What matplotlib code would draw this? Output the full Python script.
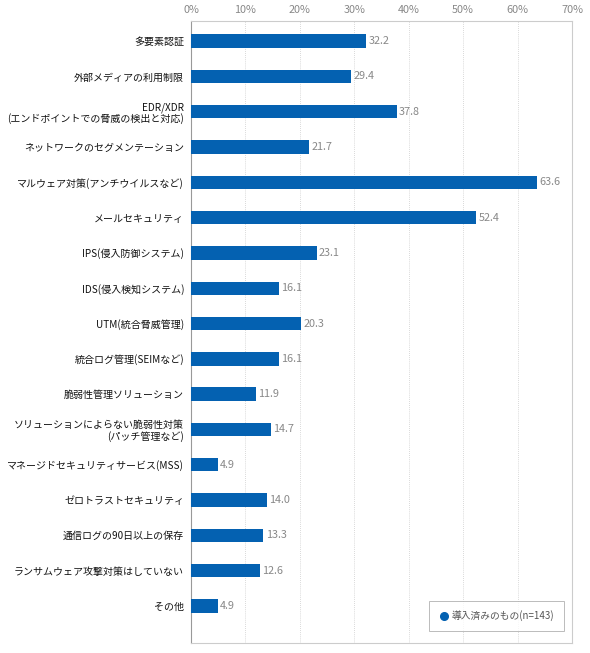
import matplotlib
matplotlib.use("Agg")
import matplotlib.pyplot as plt
from matplotlib.lines import Line2D

plt.rcParams['font.family'] = ['Noto Sans CJK JP', 'DejaVu Sans']

categories = [
    "多要素認証",
    "外部メディアの利用制限",
    "EDR/XDR\n(エンドポイントでの脅威の検出と対応)",
    "ネットワークのセグメンテーション",
    "マルウェア対策(アンチウイルスなど)",
    "メールセキュリティ",
    "IPS(侵入防御システム)",
    "IDS(侵入検知システム)",
    "UTM(統合脅威管理)",
    "統合ログ管理(SEIMなど)",
    "脆弱性管理ソリューション",
    "ソリューションによらない脆弱性対策\n(パッチ管理など)",
    "マネージドセキュリティサービス(MSS)",
    "ゼロトラストセキュリティ",
    "通信ログの90日以上の保存",
    "ランサムウェア攻撃対策はしていない",
    "その他",
]
values = [32.2, 29.4, 37.8, 21.7, 63.6, 52.4, 23.1, 16.1, 20.3, 16.1, 11.9, 14.7, 4.9, 14.0, 13.3, 12.6, 4.9]
xticks = [0, 10, 20, 30, 40, 50, 60, 70]
series_label = "導入済みのもの(n=143)"

bar_color = "#0461B1"

fig = plt.figure(figsize=(5.90, 6.53), dpi=100)
ax = fig.add_axes([0.3237, 0.0153, 0.9695 - 0.3237, 0.9678 - 0.0153])

ypos = list(range(len(categories)))
ax.barh(ypos, values, height=0.38, color=bar_color, zorder=3)
for y, v in zip(ypos, values):
    ax.text(v + 0.4, y, f"{v:.1f}", va="center", ha="left", fontsize=7.8, color="#888888")

ax.set_xlim(0, 70)
ax.set_ylim(len(categories) - 1 + 1.05, -0.57)
ax.set_xticks(xticks)
ax.set_xticklabels([f"{t}%" for t in xticks], fontsize=7.8, color="#888888")
ax.xaxis.tick_top()
ax.tick_params(axis='x', length=0, pad=4)
ax.set_yticks(ypos)
ax.set_yticklabels(categories, fontsize=7.2, color="#111111", linespacing=1.1)
ax.tick_params(axis='y', length=0, pad=5)

ax.grid(axis='x', color="#cccccc", linestyle=(0, (1, 1.5)), linewidth=0.6, zorder=0)
for side in ['top', 'right', 'bottom']:
    ax.spines[side].set_color("#cccccc")
    ax.spines[side].set_linewidth(0.8)
ax.spines['left'].set_color("#999999")
ax.spines['left'].set_linewidth(0.8)

handle = Line2D([0], [0], marker='o', color='w', markerfacecolor=bar_color,
                markeredgecolor=bar_color, markersize=5.5, linestyle='None')
leg = ax.legend([handle], [series_label], loc='lower right',
                bbox_to_anchor=(0.979, 0.019), borderaxespad=0, fontsize=7.0,
                frameon=True, fancybox=False, edgecolor="#aaaaaa",
                handlelength=1.0, handletextpad=0.3, borderpad=1.0,
                labelcolor="#555555")
leg.get_frame().set_linewidth(0.7)
leg.set_zorder(5)

fig.savefig("out.png", dpi=100)
